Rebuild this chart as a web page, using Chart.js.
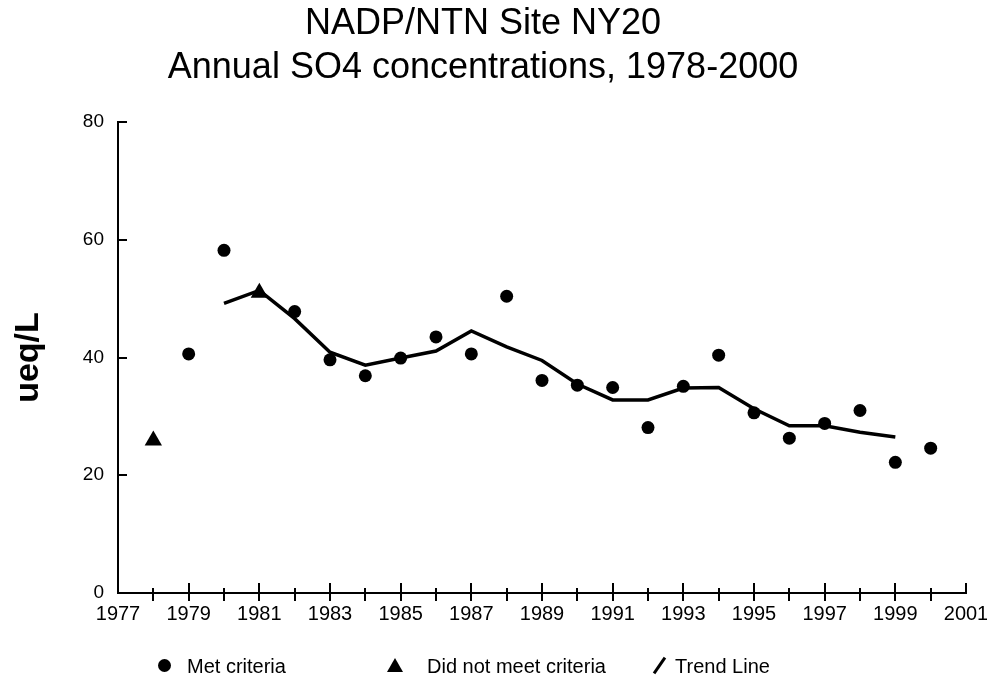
<!DOCTYPE html>
<html>
<head>
<meta charset="utf-8">
<script src="https://cdn.jsdelivr.net/npm/chart.js@4"></script>
<style>
  html, body { margin: 0; padding: 0; background: #fff; }
  #wrap { position: relative; width: 987px; height: 684px; font-family: "Liberation Sans", Arial, sans-serif; }
  #legend { position: absolute; left: 0; top: 653px; width: 987px; height: 26px; font-size: 20px; color: #000; }
  #legend span { position: absolute; top: 0; line-height: 26px; white-space: nowrap; }
  .dot { position: absolute; width: 13px; height: 13px; border-radius: 50%; background: #000; top: 6px; }
  .tri { position: absolute; width: 0; height: 0; border-left: 8px solid transparent; border-right: 8px solid transparent; border-bottom: 14px solid #000; top: 5px; }
  .slash { position: absolute; width: 3px; height: 19px; background: #000; top: 3px; transform: rotate(35deg); }
</style>
</head>
<body>
<div id="wrap">
  <canvas id="chart" width="987" height="684"></canvas>
  <div id="legend">
    <div class="dot" style="left:158px"></div><span style="left:187px">Met criteria</span>
    <div class="tri" style="left:387px"></div><span style="left:427px">Did not meet criteria</span>
    <div class="slash" style="left:658px"></div><span style="left:675px">Trend Line</span>
  </div>
</div>
<script>
const metYears = [1979, 1980, 1982, 1983, 1984, 1985, 1986, 1987, 1988, 1989, 1990, 1991, 1992, 1993, 1994, 1995, 1996, 1997, 1998, 1999, 2000]
const metValues = [40.6, 58.2, 47.8, 39.6, 36.9, 39.9, 43.5, 40.6, 50.4, 36.1, 35.3, 34.9, 28.1, 35.1, 40.4, 30.6, 26.3, 28.8, 31.0, 22.2, 24.6]

const notMetYears = [1978, 1981]
const notMetValues = [25.9, 51.0]

const trendYears = [1980, 1981, 1982, 1983, 1984, 1985, 1986, 1987, 1988, 1989, 1990, 1991, 1992, 1993, 1994, 1995, 1996, 1997, 1998, 1999]
const trendValues = [49.2, 51.4, 46.6, 40.9, 38.7, 39.9, 41.1, 44.5, 41.8, 39.5, 35.5, 32.8, 32.8, 34.8, 34.9, 31.3, 28.4, 28.4, 27.3, 26.5]

const yTicks = [0, 20, 40, 60, 80]
const xMin = 1977
const xMax = 2001

const toPoints = (xs, ys) => xs.map((x, i) => ({ x: x, y: ys[i] }))

const FONT = '"Liberation Sans", Arial, sans-serif'

// tick marks that cross the axes, like the original plot
const axisTicks = {
  id: 'axisTicks',
  afterDraw(chart) {
    const { ctx, scales } = chart
    const x = scales.x
    const y = scales.y
    const x0 = x.left
    const y0 = y.bottom
    ctx.save()
    ctx.strokeStyle = '#000'
    ctx.lineWidth = 2
    ctx.beginPath()
    for (let yr = xMin + 1; yr <= xMax; yr++) {
      const px = Math.round(x.getPixelForValue(yr))
      const up = yr % 2 === 1 ? 10 : 5
      const down = yr === xMax ? 0 : 8
      ctx.moveTo(px, y0 - up)
      ctx.lineTo(px, y0 + down)
    }
    yTicks.forEach(v => {
      if (v === 0) return
      const py = Math.round(y.getPixelForValue(v))
      ctx.moveTo(x0, py)
      ctx.lineTo(x0 + 9, py)
    })
    ctx.stroke()
    ctx.restore()
  }
}

new Chart(document.getElementById('chart'), {
  type: 'scatter',
  data: {
    datasets: [
      {
        label: 'Met criteria',
        data: toPoints(metYears, metValues),
        pointStyle: 'circle',
        pointRadius: 6.5,
        backgroundColor: '#000',
        borderColor: '#000',
        borderWidth: 0
      },
      {
        label: 'Did not meet criteria',
        data: toPoints(notMetYears, notMetValues),
        pointStyle: 'triangle',
        pointRadius: 10,
        backgroundColor: '#000',
        borderColor: '#000',
        borderWidth: 0
      },
      {
        type: 'line',
        label: 'Trend Line',
        data: toPoints(trendYears, trendValues),
        borderColor: '#000',
        borderWidth: 3.5,
        pointRadius: 0,
        tension: 0,
        fill: false
      }
    ]
  },
  options: {
    responsive: false,
    animation: false,
    layout: { padding: { top: 0, left: 0, right: 21, bottom: 0 } },
    plugins: {
      legend: { display: false },
      tooltip: { enabled: false },
      title: {
        display: true,
        text: ['NADP/NTN Site NY20', 'Annual SO4 concentrations, 1978-2000'],
        color: '#000',
        font: { family: FONT, size: 36, weight: 'normal', lineHeight: '44px' },
        padding: { top: 2, bottom: 32 }
      }
    },
    scales: {
      x: {
        type: 'linear',
        min: xMin,
        max: xMax,
        afterFit: (scale) => { scale.height = 91; scale.paddingRight = 0 },
        afterBuildTicks: (scale) => {
          const t = []
          for (let yr = xMin; yr <= xMax; yr += 2) t.push({ value: yr })
          scale.ticks = t
        },
        ticks: {
          color: '#000',
          padding: 9,
          maxRotation: 0,
          autoSkip: false,
          font: { family: FONT, size: 20 },
          callback: (v) => String(v)
        },
        grid: { display: true, drawOnChartArea: false, drawTicks: false },
        border: { display: true, color: '#000', width: 2 }
      },
      y: {
        min: 0,
        max: 80,
        afterFit: (scale) => { scale.width = 118 },
        afterBuildTicks: (scale) => { scale.ticks = yTicks.map(v => ({ value: v })) },
        ticks: {
          color: '#000',
          padding: 14,
          font: { family: FONT, size: 19 }
        },
        grid: { display: true, drawOnChartArea: false, drawTicks: false },
        border: { display: true, color: '#000', width: 2 },
        title: {
          display: true,
          text: 'ueq/L',
          color: '#000',
          font: { family: FONT, size: 34, weight: 'bold' },
          padding: { top: 8, bottom: 0 }
        }
      }
    }
  },
  plugins: [axisTicks]
})
</script>
</body>
</html>
